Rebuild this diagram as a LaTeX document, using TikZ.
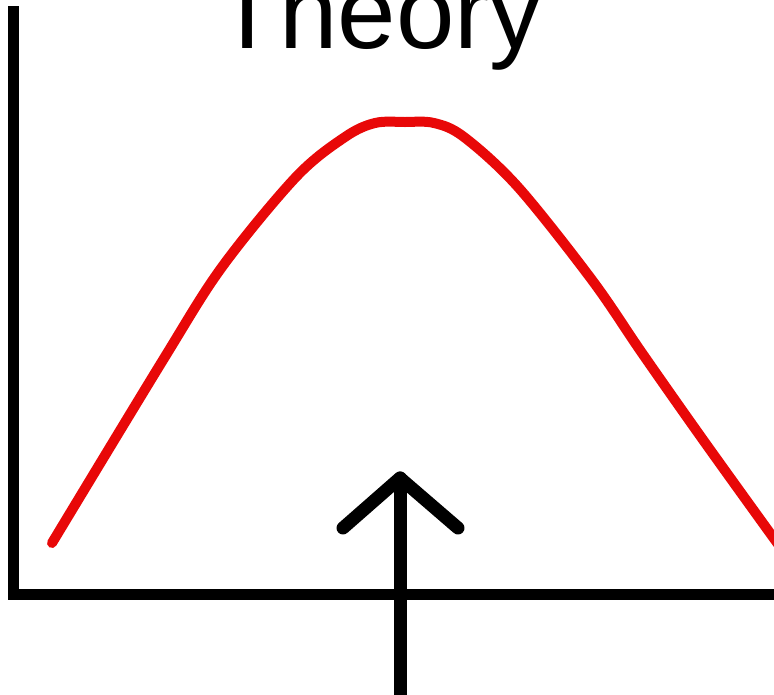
\documentclass[tikz,border=0pt]{standalone}
\usepackage{fontspec}
\setmainfont{Liberation Sans}
\definecolor{curvered}{RGB}{232,8,8}
\tikzset{
  axisline/.style={line width=11pt, black},
  curveline/.style={line width=10pt, curvered, line cap=round, line join=round},
  arrowline/.style={line width=13pt, black, line cap=round, line join=round},
}
\begin{document}
\begin{tikzpicture}[x=1pt,y=-1pt]
\useasboundingbox (0,0) rectangle (774,694);
\clip (0,0) rectangle (774,694);
\fill[white] (0,0) rectangle (774,694);
% title
\node[anchor=base west, inner sep=0pt, font=\fontsize{105}{105}\selectfont] (title) at (215,48) {Theory};
% axes
\draw[axisline, line join=miter] (13,6) -- (13,594) -- (790,594);
% curve
\draw[curveline] plot[smooth, tension=0.55] coordinates {
  (52,543) (163,360) (222,267) (296,177) (345,137) (375,123) (405,122) (434,123)
  (464,137) (518,187) (592,280) (642,353) (701,437) (770,533) (790,560)};
% arrow
\coordinate (tail) at (400,700);
\coordinate (tip) at (400,478);
\coordinate (armL) at (343,528);
\coordinate (armR) at (458,528);
\draw[arrowline] (tail) -- (tip);
\draw[arrowline] (armL) -- (tip) -- (armR);
\end{tikzpicture}
\end{document}
